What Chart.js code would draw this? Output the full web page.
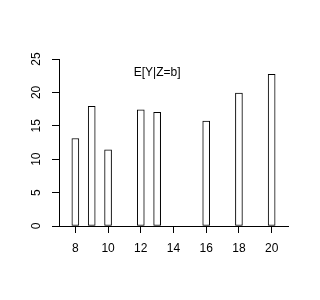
<!DOCTYPE html>
<html>
<head>
<meta charset="utf-8">
<script src="https://cdn.jsdelivr.net/npm/chart.js@4/dist/chart.umd.min.js"></script>
<style>
  html, body { margin: 0; padding: 0; background: #fff; }
  #wrap { width: 320px; height: 300px; }
</style>
</head>
<body>
<div id="wrap"><canvas id="chart" width="320" height="300"></canvas></div>
<script>
// datos
const categories = [8, 9, 10, 12, 13, 16, 18, 20];
const values = [13.1, 17.9, 11.4, 17.4, 17.0, 15.7, 19.9, 22.7];
const xTicks = [8, 10, 12, 14, 16, 18, 20];
const yTicks = [0, 5, 10, 15, 20, 25];
const titleText = 'E[Y|Z=b]';

const FONT = 'Liberation Sans, Arial, Helvetica, sans-serif';

// texto dentro del área del gráfico, como text() en R
const innerTitle = {
    id: 'innerTitle',
    afterDraw(chart) {
        const { ctx, scales } = chart;
        ctx.save();
        ctx.font = '12px ' + FONT;
        ctx.fillStyle = '#000';
        ctx.textAlign = 'center';
        ctx.textBaseline = 'middle';
        ctx.fillText(titleText, scales.x.getPixelForValue(13), scales.y.getPixelForValue(23));
        ctx.restore();
    }
};

const points = categories.map((c, i) => ({ x: c, y: values[i] }));

new Chart(document.getElementById('chart'), {
    type: 'bar',
    data: {
        datasets: [{
            data: points,
            backgroundColor: '#fff',
            borderColor: '#000',
            borderWidth: 1,
            borderSkipped: false,
            barThickness: 7
        }]
    },
    options: {
        responsive: false,
        animation: false,
        layout: { padding: { top: 59, right: 32, left: 0, bottom: 0 } },
        plugins: { legend: { display: false }, tooltip: { enabled: false } },
        scales: {
            x: {
                type: 'linear',
                min: 7,
                max: 21,
                offset: false,
                afterBuildTicks(scale) { scale.ticks = xTicks.map(v => ({ value: v })); },
                afterFit(scale) { scale.height = 74; },
                grid: { offset: false, drawOnChartArea: false, drawTicks: true, tickLength: 7, color: '#000' },
                border: { display: true, color: '#000', width: 1 },
                ticks: { color: '#000', font: { family: FONT, size: 12 }, padding: 8, maxRotation: 0 }
            },
            y: {
                min: 0,
                max: 25,
                afterBuildTicks(scale) { scale.ticks = yTicks.map(v => ({ value: v })); },
                afterFit(scale) { scale.width = 59; },
                grid: { drawOnChartArea: false, drawTicks: true, tickLength: 7, color: '#000' },
                border: { display: true, color: '#000', width: 1 },
                ticks: {
                    color: '#000',
                    font: { family: FONT, size: 12 },
                    minRotation: 90,
                    maxRotation: 90,
                    crossAlign: 'center',
                    padding: 9
                }
            }
        }
    },
    plugins: [innerTitle]
});
</script>
</body>
</html>
